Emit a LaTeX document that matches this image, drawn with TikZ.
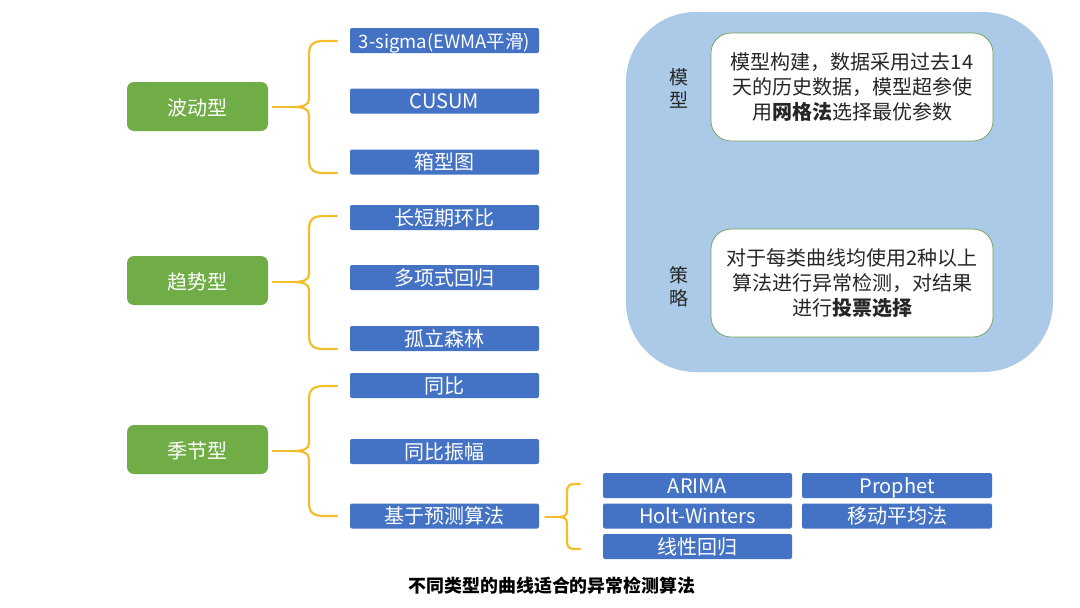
\documentclass[tikz,border=0pt]{standalone}
\usepackage{fontspec}
\setmainfont{Noto Sans CJK SC}
\definecolor{bbox}{HTML}{4472C4}
\definecolor{gbox}{HTML}{70AD47}
\definecolor{brc}{HTML}{F2BE2E}
\definecolor{panel}{HTML}{ABCAE7}
\definecolor{edgeg}{HTML}{6F9F55}
\tikzset{
  algo/.style={draw=none,fill=bbox,rounded corners=2pt,text=white,minimum height=25pt,inner sep=0pt,text height=15.5pt,text depth=0pt,font=\fontsize{20}{22}\selectfont,anchor=center},
  wide/.style={algo,minimum width=189pt},
  kind/.style={draw=none,fill=gbox,rounded corners=7pt,text=white,minimum width=141pt,minimum height=49pt,inner sep=0pt,text height=17pt,text depth=0pt,font=\fontsize{20}{24}\selectfont},
  brace/.style={draw=brc,line width=2.2pt,line cap=round,line join=round},
  note/.style={draw=edgeg,line width=0.7pt,fill=white,rounded corners=20pt,minimum width=282pt,minimum height=108pt,inner sep=0pt,align=center,text=black!85,font=\fontsize{20}{25}\selectfont},
  side/.style={text=black!85,inner sep=0pt,align=center,font=\fontsize{19}{23.5}\selectfont},
}
\begin{document}
\begin{tikzpicture}[x=1pt,y=-1pt]
\useasboundingbox[fill=white] (0,0) rectangle (1080,608);
% right panel
\node[draw=none,fill=panel,rounded corners=70pt,minimum width=427pt,minimum height=360pt,inner sep=0pt] (panel) at (839.5,192) {};
\node[note] (n1) at (852,87) {\raisebox{-1.5pt}{\parbox{282pt}{\centering 模型构建，数据采用过去14\\天的历史数据，模型超参使\\用\textbf{网格法}选择最优参数}}};
\node[note] (n2) at (852,283) {\raisebox{-1.5pt}{\parbox{282pt}{\centering 对于每类曲线均使用2种以上\\算法进行异常检测，对结果\\进行\textbf{投票选择}}}};
\node[side] (s1) at (679,88.5) {模\\型};
\node[side] (s2) at (679,286.5) {策\\略};
% kinds
\node[kind] (k1) at (197.5,106.5) {波动型};
\node[kind] (k2) at (197.5,280.5) {趋势型};
\node[kind] (k3) at (197.5,449.5) {季节型};
% algorithms
\node[wide,font=\fontsize{18.5}{22}\selectfont] (a1) at (444.5,40.5) {3-sigma(EWMA平滑)};
\node[wide] (a2) at (444.5,101) {CUSUM};
\node[wide] (a3) at (444.5,162) {箱型图};
\node[wide] (b1) at (444.5,217.5) {长短期环比};
\node[wide] (b2) at (444.5,277.5) {多项式回归};
\node[wide] (b3) at (444.5,338.5) {孤立森林};
\node[wide] (c1) at (444.5,385.5) {同比};
\node[wide] (c2) at (444.5,451.5) {同比振幅};
\node[wide] (c3) at (444.5,516) {基于预测算法};
\node[wide] (d1) at (697.5,485.5) {ARIMA};
\node[wide,minimum width=190pt] (d2) at (897,485.5) {Prophet};
\node[wide] (d3) at (697.5,516) {Holt-Winters};
\node[wide,minimum width=190pt] (d4) at (897,516) {移动平均法};
\node[wide] (d5) at (697.5,546.5) {线性回归};
% brace end points
\coordinate (t1) at (337,41); \coordinate (m1) at (292,107); \coordinate (e1) at (337,173);
\coordinate (t2) at (337,216); \coordinate (m2) at (292,282); \coordinate (e2) at (337,349);
\coordinate (t3) at (337,386); \coordinate (m3) at (292,451); \coordinate (e3) at (337,516);
\coordinate (t4) at (580,484); \coordinate (m4) at (558,517); \coordinate (e4) at (580,549);
% braces
\foreach \t/\m/\e/\k in {t1/m1/e1/k1,t2/m2/e2/k2,t3/m3/e3/k3}{
  \draw[brace] (\t) -- ([xshift=-12pt]\t) .. controls ([xshift=-24pt]\t) and ([xshift=-28pt,yshift=-3pt]\t) .. ([xshift=-28pt,yshift=-14pt]\t)
     -- ([xshift=17pt,yshift=8pt]\m) .. controls ([xshift=17pt,yshift=2pt]\m) and ([xshift=12pt]\m) .. (\m)
     .. controls ([xshift=12pt]\m) and ([xshift=17pt,yshift=-2pt]\m) .. ([xshift=17pt,yshift=-8pt]\m)
     -- ([xshift=-28pt,yshift=14pt]\e) .. controls ([xshift=-28pt,yshift=3pt]\e) and ([xshift=-24pt]\e) .. ([xshift=-12pt]\e) -- (\e);
  \draw[brace] (\k.east |- \m) ++(4.5pt,0) -- (\m);
}
\draw[brace] (t4) -- ([xshift=-5pt]t4) .. controls ([xshift=-11pt]t4) and ([xshift=-13pt,yshift=-2pt]t4) .. ([xshift=-13pt,yshift=-8pt]t4)
   -- ([xshift=9pt,yshift=6pt]m4) .. controls ([xshift=9pt,yshift=1pt]m4) and ([xshift=5pt]m4) .. (m4)
   .. controls ([xshift=5pt]m4) and ([xshift=9pt,yshift=-1pt]m4) .. ([xshift=9pt,yshift=-6pt]m4)
   -- ([xshift=-13pt,yshift=8pt]e4) .. controls ([xshift=-13pt,yshift=2pt]e4) and ([xshift=-11pt]e4) .. ([xshift=-5pt]e4) -- (e4);
\draw[brace] (c3.east |- m4) ++(6pt,0) -- (m4);
% caption
\node[inner sep=0pt,text=black,font=\fontsize{17.9}{20}\selectfont\bfseries] (cap) at (552,586) {不同类型的曲线适合的异常检测算法};
\end{tikzpicture}
\end{document}
